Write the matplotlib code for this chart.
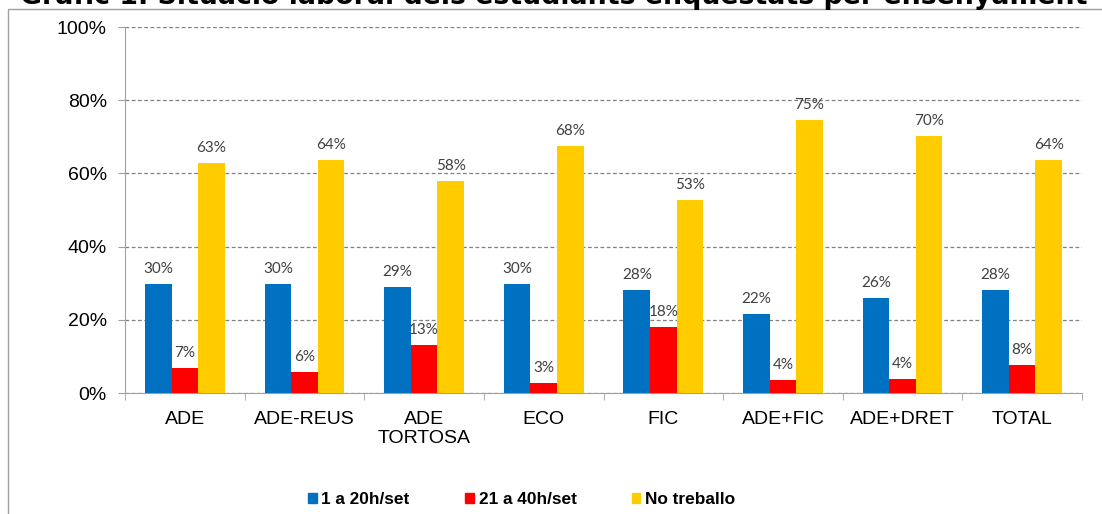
import numpy as np
import matplotlib
matplotlib.use("Agg")
import matplotlib.pyplot as plt
from matplotlib.patches import Patch, Rectangle

categories = ["ADE", "ADE-REUS", "ADE\nTORTOSA", "ECO", "FIC", "ADE+FIC", "ADE+DRET", "TOTAL"]
series_names = ["1 a 20h/set", "21 a 40h/set", "No treballo"]
part_time = [29.8, 29.8, 29.0, 29.8, 28.1, 21.6, 26.0, 28.1]
full_time = [6.8, 5.7, 13.1, 2.7, 18.0, 3.6, 3.8, 7.6]
no_work = [62.8, 63.7, 57.9, 67.6, 52.6, 74.6, 70.2, 63.7]
colors = ["#0070C0", "#FF0000", "#FFCC00"]
title = "Gràfic 1. Situació laboral dels estudiants enquestats per ensenyament"

fig = plt.figure(figsize=(11.02, 5.14), dpi=100)
ax = fig.add_axes([125 / 1102, 1 - 393 / 514, (1082 - 125) / 1102, (393 - 27) / 514])

x = np.arange(len(categories))
w = 0.222
for i, (vals, c) in enumerate(zip([part_time, full_time, no_work], colors)):
    pos = x + (i - 1) * w
    ax.bar(pos, vals, width=w, color=c, label=series_names[i], zorder=3)
    for p, v in zip(pos, vals):
        ax.text(p, v + 2.2, f"{v:.0f}%", ha="center", va="bottom",
                fontsize=11, family="Lato", color="#404040", zorder=4)

ax.set_xlim(-0.5, len(categories) - 0.5)
ax.set_ylim(0, 100)
ax.set_yticks(np.arange(0, 101, 20))
ax.set_yticklabels([f"{t}%" for t in range(0, 101, 20)], family="Liberation Sans", fontsize=14)
ax.yaxis.grid(True, linestyle=(0, (3, 2)), color="#808080", linewidth=0.9, zorder=0)
ax.set_axisbelow(True)

ax.set_xticks(x)
ax.set_xticklabels(categories, family="Liberation Sans", fontsize=14, linespacing=1.15)
ax.set_xticks(np.arange(-0.5, len(categories), 1), minor=True)
ax.tick_params(axis="x", which="major", length=0, pad=13)
ax.tick_params(axis="x", which="minor", length=5, color="#A0A0A0", direction="out")
ax.tick_params(axis="y", length=5, color="#A0A0A0", pad=8)

for s in ["top", "right"]:
    ax.spines[s].set_visible(False)
ax.spines["left"].set_color("#A0A0A0")
ax.spines["bottom"].set_color("#A0A0A0")

handles = [Patch(color=c) for c in colors]
fig.legend(handles, series_names, loc="center", bbox_to_anchor=(521.5 / 1102, 1 - 500 / 514),
           ncol=3, frameon=False, prop={"family": "Liberation Sans", "weight": "bold", "size": 12.4},
           handlelength=0.52, handleheight=0.52, handletextpad=0.28, columnspacing=3.2)

fig.patches.append(Rectangle((8 / 1102, -0.1), 1.2, 1.1 - 9 / 514,
                             transform=fig.transFigure, fill=False,
                             edgecolor="#A0A0A0", linewidth=1))

fig.text(20 / 1102, 1 - 4 / 514, title, ha="left", va="baseline",
         fontsize=19.3, weight="bold", family="DejaVu Sans")

fig.savefig("out.png", dpi=100)
